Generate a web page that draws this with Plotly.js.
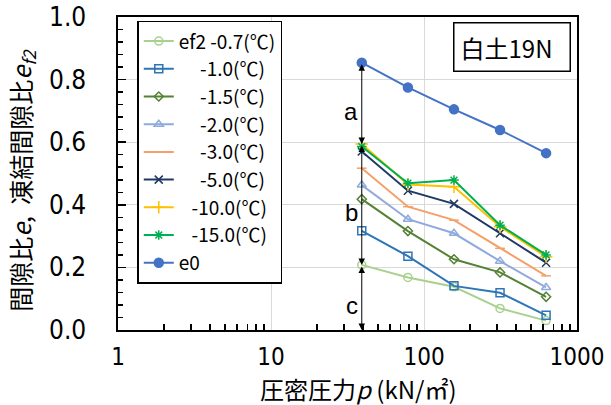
<!DOCTYPE html>
<html>
<head>
<meta charset="utf-8">
<script src="https://cdn.plot.ly/plotly-3.0.1.min.js"></script>
<style>html,body{margin:0;padding:0;background:#fff;}#chart{width:611px;height:405px;}</style>
</head>
<body>
<div id="chart"></div>
<script>
// consolidation pressure p (kN/m2)
const pressure = [39.2, 78.5, 157, 314, 628];

const seriesNames = ['ef2 -0.7(℃)', '     -1.0(℃)', '     -1.5(℃)', '     -2.0(℃)', '     -3.0(℃)', '     -5.0(℃)', '   -10.0(℃)', '   -15.0(℃)', 'e0'];

const ef_m07 = [0.208, 0.168, 0.138, 0.069, 0.030];
const ef_m10 = [0.317, 0.236, 0.141, 0.119, 0.047];
const ef_m15 = [0.418, 0.316, 0.226, 0.184, 0.106];
const ef_m20 = [0.463, 0.354, 0.309, 0.220, 0.136];
const ef_m30 = [0.517, 0.394, 0.351, 0.261, 0.173];
const ef_m50 = [0.570, 0.445, 0.403, 0.309, 0.215];
const ef_m100 = [0.594, 0.465, 0.458, 0.330, 0.234];
const ef_m150 = [0.586, 0.469, 0.479, 0.335, 0.240];
const e0 = [0.854, 0.775, 0.705, 0.639, 0.565];

const yTickVals = [0, 0.2, 0.4, 0.6, 0.8, 1.0];
const xTickVals = [1, 10, 100, 1000];
const xMinorVals = [2,3,4,5,6,7,8,9,20,30,40,50,60,70,80,90,200,300,400,500,600,700,800,900];
const yTitle = '間隙比<i>e</i>,  凍結間隙比<i>e<sub>f2</sub></i>';
const xTitle = '圧密圧力<i>p</i> (kN/㎡)';

const styles = [
  {c:'#a9d18e', s:'circle-open', sz:8},
  {c:'#2e75b6', s:'square-open', sz:8},
  {c:'#548235', s:'diamond-open', sz:7},
  {c:'#8faadc', s:'triangle-up-open', sz:8},
  {c:'#f4a06a', s:'line-ew-open', sz:7},
  {c:'#203864', s:'x-thin-open', sz:8},
  {c:'#ffc000', s:'cross-thin-open', sz:9},
  {c:'#00b050', s:'asterisk-open', sz:8},
  {c:'#4472c4', s:'circle', sz:9}
];
const data = [ef_m07, ef_m10, ef_m15, ef_m20, ef_m30, ef_m50, ef_m100, ef_m150, e0];

const traces = data.map((ys, i) => ({
  x: pressure, y: ys, type: 'scatter', mode: 'lines+markers', name: seriesNames[i],
  line: {color: styles[i].c, width: 2},
  marker: {symbol: styles[i].s, size: styles[i].sz, color: styles[i].c, line: {color: styles[i].c, width: 1.5}}
}));

// arrows derived from data at first pressure
const lx = Math.log10(pressure[0]);
const topFrozen = Math.max(ef_m100[0], ef_m150[0]);
const segs = [
  {y0: e0[0], y1: topFrozen, t: 'a'},
  {y0: topFrozen, y1: ef_m07[0], t: 'b'},
  {y0: ef_m07[0], y1: 0, t: 'c'}
];
const annotations = [];
segs.forEach(s => {
  annotations.push({
    x: lx, y: s.y1, ax: lx, ay: s.y0, xref: 'x', yref: 'y', axref: 'x', ayref: 'y',
    text: '', showarrow: true, arrowhead: 2, startarrowhead: 2, arrowside: 'end+start',
    arrowsize: 1.3, startarrowsize: 1.3, arrowwidth: 1, arrowcolor: '#000'
  });
  annotations.push({
    x: lx, y: (s.y0 + s.y1) / 2, xref: 'x', yref: 'y', text: s.t, showarrow: false,
    xanchor: 'right', xshift: -2, yshift: -8,
    font: {family: 'Liberation Sans, Arial, sans-serif', size: 24, color: '#000'}
  });
});
annotations.push({
  x: 0.988, y: 0.983, xref: 'paper', yref: 'paper', xanchor: 'right', yanchor: 'top',
  text: '白土19N  ', showarrow: false, bordercolor: '#000', borderwidth: 1.5, bgcolor: '#fff',
  borderpad: 6, font: {family: 'Noto Sans CJK JP', size: 24, color: '#000'}
});
// y tick labels (placed further from the axis, as in the reference)
yTickVals.forEach(v => {
  annotations.push({
    x: 0, y: v, xref: 'paper', yref: 'y', xanchor: 'right', yanchor: 'middle',
    xshift: -30, text: v.toFixed(1), showarrow: false,
    font: {family: 'Liberation Sans Narrow, DejaVu Sans Condensed, sans-serif', size: 26, color: '#000'}
  });
});
// axis titles
annotations.push({
  x: 0, y: 0.48, xref: 'paper', yref: 'paper', xanchor: 'center', yanchor: 'middle',
  xshift: -96, textangle: -90, text: yTitle, showarrow: false,
  font: {family: 'Noto Sans CJK JP', size: 25, color: '#000'}
});
annotations.push({
  x: 0.525, y: 0, xref: 'paper', yref: 'paper', xanchor: 'center', yanchor: 'middle',
  yshift: -58, text: xTitle, showarrow: false,
  font: {family: 'Noto Sans CJK JP', size: 24, color: '#000'}
});

const layout = {
  width: 611, height: 405,
  margin: {l: 118, r: 34, t: 17, b: 75},
  paper_bgcolor: '#fff', plot_bgcolor: '#fff',
  showlegend: true,
  legend: {
    x: 0.042, y: 0.988, xanchor: 'left', yanchor: 'top',
    bgcolor: '#fff', bordercolor: '#000', borderwidth: 1.5,
    font: {family: 'Noto Sans CJK JP', size: 19, color: '#000'},
    tracegroupgap: 0, itemwidth: 30
  },
  xaxis: {
    type: 'log', range: [0, 3], tickvals: xTickVals, ticktext: xTickVals.map(String),
    ticks: '', showline: true, linecolor: '#000', linewidth: 2, mirror: true,
    showgrid: true, gridcolor: '#d9d9d9', gridwidth: 1, zeroline: false,
    ticklabelstandoff: 4,
    tickfont: {family: 'Liberation Sans Narrow, DejaVu Sans Condensed, sans-serif', size: 24, color: '#000'},
    minor: {tickmode: 'array', tickvals: xMinorVals, ticks: 'inside', ticklen: 6, tickcolor: '#000', tickwidth: 1.5, showgrid: false}
  },
  yaxis: {
    range: [0, 1.0], tickvals: yTickVals, showticklabels: false,
    ticks: 'inside', ticklen: 8, tickwidth: 1.5, tickcolor: '#000',
    showline: true, linecolor: '#000', linewidth: 2, mirror: true,
    showgrid: true, gridcolor: '#d9d9d9', gridwidth: 1, zeroline: false,
    minor: {dtick: 0.04, ticks: 'inside', ticklen: 5, tickwidth: 1.5, tickcolor: '#000', showgrid: false}
  },
  annotations: annotations
};

Plotly.newPlot('chart', traces, layout, {displayModeBar: false, staticPlot: true});
</script>
</body>
</html>
